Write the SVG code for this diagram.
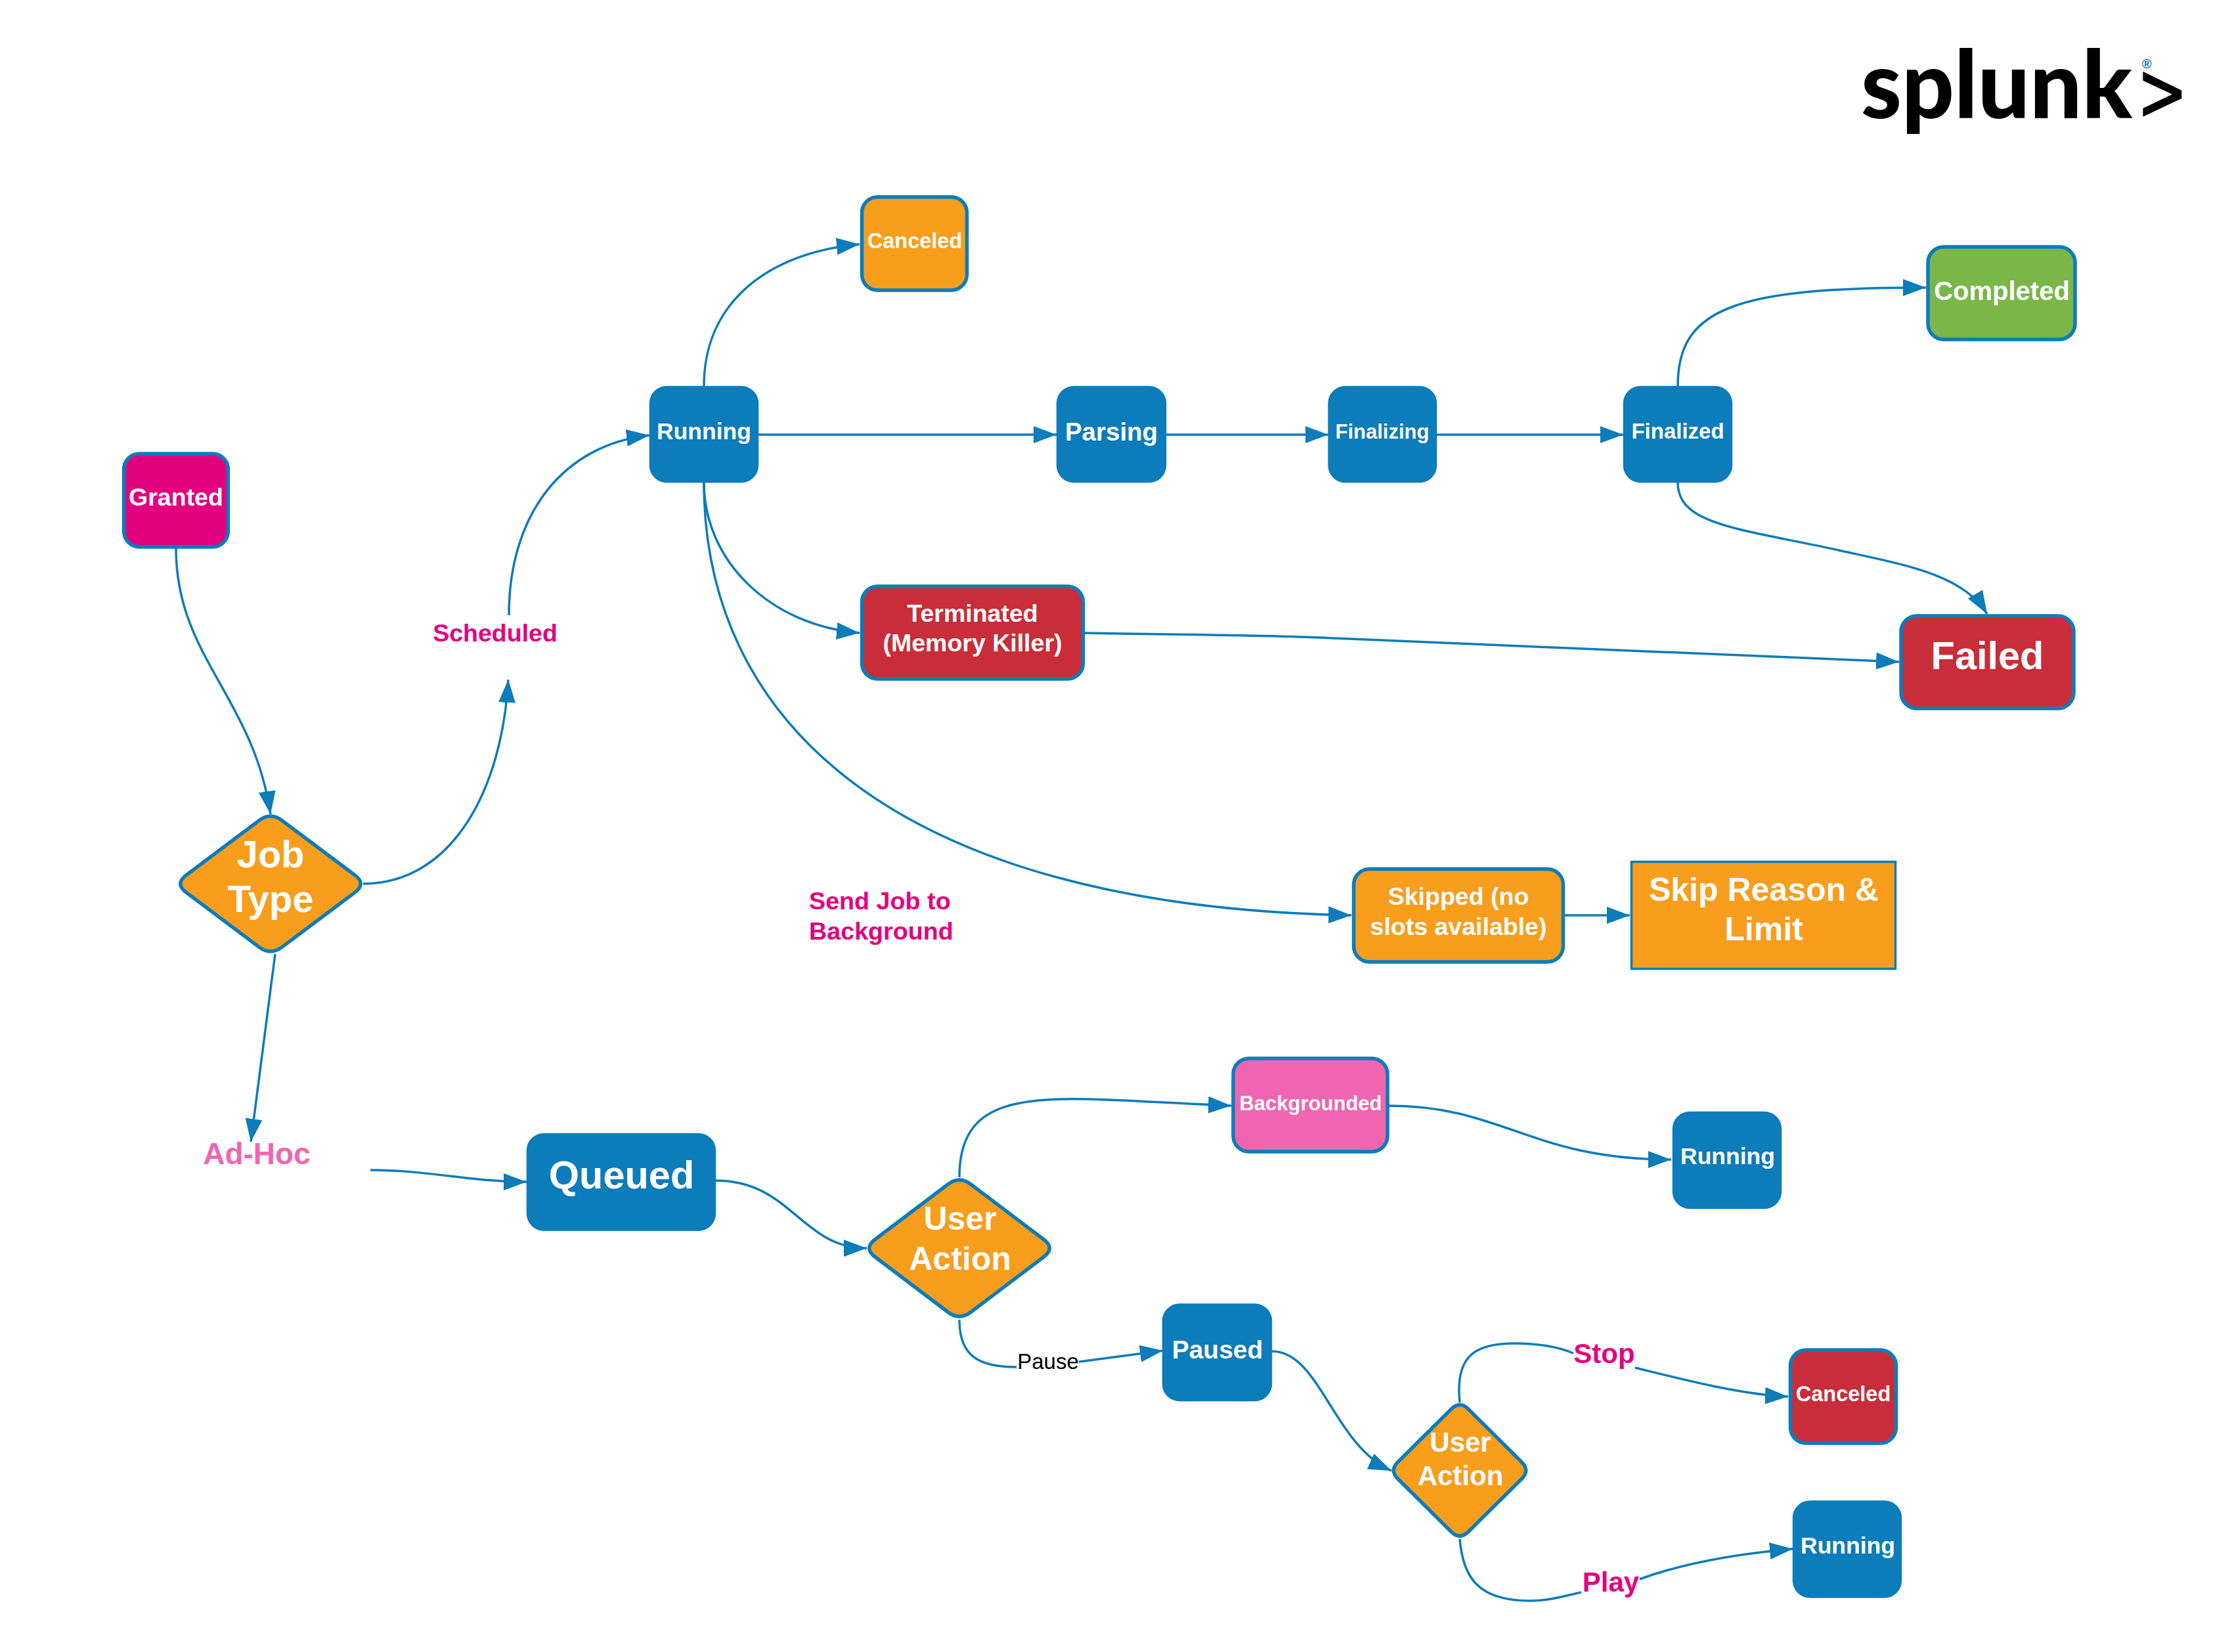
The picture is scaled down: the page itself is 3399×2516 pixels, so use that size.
<svg xmlns="http://www.w3.org/2000/svg" width="3399" height="2516" viewBox="0 0 3399 2516">
<style>
text{font-family:"Liberation Sans",Arial,sans-serif;font-weight:700;fill:#fff;text-anchor:middle}
.n{stroke:#0c7cba;stroke-width:5.500}
.blue{fill:#0c7cba}.org{fill:#f99d1c}.red{fill:#c92d39}.mag{fill:#e3007f}.grn{fill:#7ab648}.pnk{fill:#f065b0}
.c{fill:none;stroke:#0c7cba;stroke-width:3.500}
.a{marker-end:url(#arr)}
text.lm{fill:#e3007f}
text.lp{fill:#f065b0}
</style>
<defs>
<marker id="arr" markerUnits="userSpaceOnUse" markerWidth="36" markerHeight="26" refX="35" refY="13" orient="auto">
<path d="M0 0L35 13L0 26Z" fill="#0c7cba"/>
</marker>
</defs>
<rect width="3399" height="2516" fill="#fff"/>
<g id="connectors">
<path class="c a" d="M268 835C268 1000 385 1060 412 1240"/>
<path class="c a" d="M553 1346C690 1346 765 1200 774 1035"/>
<path class="c a" d="M775 937C775 780 860 677 989 663"/>
<path class="c a" d="M419 1453L382 1739"/>
<path class="c a" d="M564 1782C650 1782 720 1800 802 1800"/>
<path class="c a" d="M1090 1798C1205 1798 1220 1901 1320 1901"/>
<path class="c a" d="M1461 1793C1461 1640 1610 1674 1875 1684"/>
<path class="c a" d="M2114 1684C2290 1684 2330 1766 2545 1766"/>
<path class="c" d="M1461 2010C1461 2065 1490 2082 1548 2082"/>
<path class="c a" d="M1643 2074L1771 2057"/>
<path class="c a" d="M1937 2058C2010 2058 2030 2200 2119 2240"/>
<path class="c" d="M2223 2136C2215 2062 2250 2046 2306 2046C2340 2046 2370 2050 2396 2061"/>
<path class="c a" d="M2490 2083C2560 2100 2650 2124 2723 2127"/>
<path class="c" d="M2223 2344C2228 2402 2250 2438 2330 2438C2360 2438 2385 2430 2408 2425"/>
<path class="c a" d="M2497 2405C2560 2382 2640 2367 2730 2359"/>
<path class="c a" d="M1072 588C1072 460 1170 385 1309 372"/>
<path class="c a" d="M1155 662L1609 662"/>
<path class="c a" d="M1776 662L2023 662"/>
<path class="c a" d="M2188 662L2472 662"/>
<path class="c a" d="M2555 588C2555 470 2640 438 2933 438"/>
<path class="c a" d="M2555 735C2555 800 2650 805 2800 838C2900 860 2990 875 3026 935"/>
<path class="c a" d="M1072 735C1072 852 1170 952 1309 964"/>
<path class="c a" d="M1072 735C1072 1090 1350 1380 2058 1394"/>
<path class="c a" d="M1652 964C1800 967 1930 967 2030 972L2892 1008"/>
<path class="c a" d="M2383 1394L2482 1394"/>
</g>
<g id="granted"><rect class="n mag" x="188.500" y="691" width="159" height="142" rx="24"/><text x="268" y="770" font-size="37.500">Granted</text></g>
<g id="job-type"><path class="n org" d="M394.500 1249.600Q412 1236.500 429.500 1249.600L540.500 1332.900Q558 1346 540.500 1359.100L429.500 1442.400Q412 1455.500 394.500 1442.400L283.500 1359.100Q266 1346 283.500 1332.900Z"/><text x="412" y="1321" font-size="58">Job</text><text x="412" y="1389" font-size="58">Type</text></g>
<g id="scheduled"><text class="lm" x="754" y="977" font-size="37.500">Scheduled</text></g>
<g id="ad-hoc"><text class="lp" x="391" y="1773" font-size="46">Ad-Hoc</text></g>
<g id="running-1"><rect class="n blue" x="991.500" y="590.500" width="161" height="142" rx="24"/><text x="1072" y="669" font-size="35.500">Running</text></g>
<g id="canceled-1"><rect class="n org" x="1312.500" y="300" width="160" height="142" rx="24"/><text x="1393" y="378" font-size="32.500">Canceled</text></g>
<g id="parsing"><rect class="n blue" x="1611.500" y="590.500" width="162" height="142" rx="24"/><text x="1692.500" y="671" font-size="38.500">Parsing</text></g>
<g id="finalizing"><rect class="n blue" x="2025" y="590.500" width="160.500" height="142" rx="24"/><text x="2105" y="668" font-size="31">Finalizing</text></g>
<g id="finalized"><rect class="n blue" x="2474.500" y="590.500" width="161" height="142" rx="24"/><text x="2555" y="668" font-size="33">Finalized</text></g>
<g id="completed"><rect class="n grn" x="2936" y="376" width="224" height="141" rx="24"/><text x="3048.500" y="457" font-size="40">Completed</text></g>
<g id="failed"><rect class="n red" x="2895" y="938" width="263" height="141" rx="24"/><text x="3026.500" y="1019" font-size="59.500">Failed</text></g>
<g id="terminated"><rect class="n red" x="1312.500" y="893" width="337" height="141" rx="24"/><text x="1481" y="947" font-size="37.500">Terminated</text><text x="1481" y="992" font-size="37.500">(Memory Killer)</text></g>
<g id="skipped"><rect class="n org" x="2061.500" y="1323.500" width="319" height="141.500" rx="24"/><text x="2221" y="1378" font-size="37.500">Skipped (no</text><text x="2221" y="1424" font-size="37.500">slots available)</text></g>
<g id="skip-reason"><rect x="2484.500" y="1312.500" width="402" height="163" fill="#f99d1c" stroke="#0c7cba" stroke-width="3.500"/><text x="2686" y="1372" font-size="50">Skip Reason &amp;</text><text x="2686" y="1432" font-size="50">Limit</text></g>
<g id="send-job"><text class="lm" x="1232" y="1385" font-size="37.700" style="text-anchor:start">Send Job to</text><text class="lm" x="1232" y="1431" font-size="37.700" style="text-anchor:start">Background</text></g>
<g id="queued"><rect class="n blue" x="804.500" y="1728.500" width="283" height="143.500" rx="24"/><text x="946.500" y="1810" font-size="59.500">Queued</text></g>
<g id="user-action-1"><path class="n org" d="M1443.500 1803.700Q1461 1790.400 1478.500 1803.700L1589.500 1887.700Q1607 1901 1589.500 1914.300L1478.500 1998.300Q1461 2011.600 1443.500 1998.300L1332.500 1914.300Q1315 1901 1332.500 1887.700Z"/><text x="1462" y="1873" font-size="50">User</text><text x="1462" y="1934" font-size="50">Action</text></g>
<g id="backgrounded"><rect class="n pnk" x="1878" y="1612" width="235" height="142" rx="24"/><text x="1996" y="1691" font-size="31">Backgrounded</text></g>
<g id="running-2"><rect class="n blue" x="2549.500" y="1695.500" width="161" height="143" rx="24"/><text x="2631" y="1773" font-size="35.500">Running</text></g>
<g id="pause"><text x="1596" y="2085" font-size="33" style="fill:#000;font-weight:400">Pause</text></g>
<g id="paused"><rect class="n blue" x="1772.500" y="1988" width="162" height="143.500" rx="24"/><text x="1854" y="2069" font-size="39">Paused</text></g>
<g id="user-action-2"><path class="n org" d="M2210.100 2146Q2223 2133.300 2235.900 2146L2317.300 2226.800Q2330.200 2239.500 2317.300 2252.200L2235.900 2333Q2223 2345.700 2210.100 2333L2128.700 2252.200Q2115.800 2239.500 2128.700 2226.800Z"/><text x="2224" y="2211" font-size="42">User</text><text x="2224" y="2262" font-size="42">Action</text></g>
<g id="stop"><text class="lm" x="2443" y="2076" font-size="42">Stop</text></g>
<g id="play"><text class="lm" x="2453" y="2424" font-size="42">Play</text></g>
<g id="canceled-2"><rect class="n red" x="2726.500" y="2056" width="161" height="142" rx="24"/><text x="2807" y="2134" font-size="32.500">Canceled</text></g>
<g id="running-3"><rect class="n blue" x="2732.500" y="2288" width="161" height="143" rx="24"/><text x="2814" y="2366" font-size="35.500">Running</text></g>
<g id="logo">
<text x="2834" y="180" font-size="143" textLength="413" lengthAdjust="spacingAndGlyphs" style="font-family:Lato,'Open Sans',sans-serif;font-weight:900;fill:#000;text-anchor:start">splunk</text>
<path d="M3263.400 109L3322.300 137.700V150L3263.400 177.700V165L3308 143.700L3263.400 122.700Z" fill="#000"/>
<text x="3269" y="104" font-size="20" style="fill:#0c6ca6;font-weight:700">®</text>
</g>
</svg>
